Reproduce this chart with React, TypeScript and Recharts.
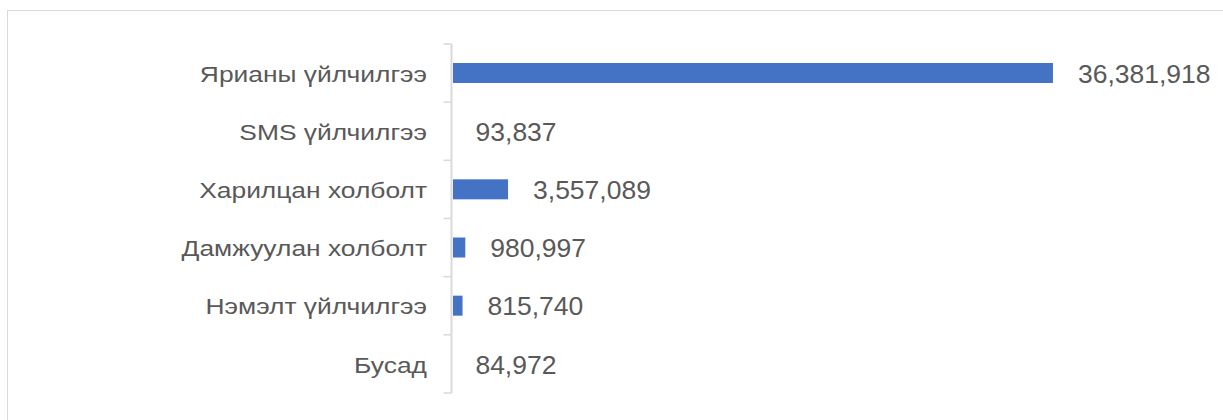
import React from 'react';
import { BarChart, Bar, XAxis, YAxis, LabelList } from 'recharts';

const categories = [
  'Ярианы үйлчилгээ',
  'SMS үйлчилгээ',
  'Харилцан холболт',
  'Дамжуулан холболт',
  'Нэмэлт үйлчилгээ',
  'Бусад',
];
const values = [36381918, 93837, 3557089, 980997, 815740, 84972];

const data = categories.map((name, i) => ({ name, value: values[i] }));

const W = 1223;
const H = 420;
const M = { top: 44, right: 110, bottom: 27, left: 0 };
const AXIS_W = 449;
const BAND = (H - M.top - M.bottom) / categories.length;
const FONT = "'Liberation Sans', Arial, sans-serif";
const TEXT = '#595959';
const AXIS = '#d9d9d9';
const AX_OFF = 2.5; // axis line drawn slightly right of the value origin
const BAR_CLIP = 4; // bars start just right of the axis line

const Tick = (props: any) => {
  const { x, y, payload, index } = props;
  const half = BAND / 2;
  const ax = x + AX_OFF;
  return (
    <g>
      <line x1={ax} x2={ax} y1={y - half} y2={y + half} stroke={AXIS} strokeWidth={2} />
      <line x1={ax - 8} x2={ax} y1={y - half} y2={y - half} stroke={AXIS} strokeWidth={1.5} />
      {index === categories.length - 1 && (
        <line x1={ax - 8} x2={ax} y1={y + half} y2={y + half} stroke={AXIS} strokeWidth={1.5} />
      )}
      <text
        transform={`translate(${ax - 24.5},${y + 1}) scale(1.2,1)`}
        x={0}
        y={0}
        textAnchor="end"
        dominantBaseline="central"
        fill={TEXT}
        fontSize={22}
        fontFamily={FONT}
      >
        {payload.value}
      </text>
    </g>
  );
};

const BarShape = (props: any) => {
  const { x, y, width, height, fill } = props;
  const w = width - BAR_CLIP;
  if (!(w > 0)) return <g />;
  return <rect x={x + BAR_CLIP} y={y} width={w} height={height} fill={fill} />;
};

const ValueLabel = (props: any) => {
  const { x, y, width, height, value } = props;
  const tx = Number(x) + Number(width) + 25;
  const ty = Number(y) + Number(height) / 2 + 1;
  return (
    <text
      transform={`translate(${tx},${ty}) scale(1.06,1)`}
      x={0}
      y={0}
      textAnchor="start"
      dominantBaseline="central"
      fill={TEXT}
      fontSize={25}
      fontFamily={FONT}
    >
      {Number(value).toLocaleString('en-US')}
    </text>
  );
};

export default function App() {
  return (
    <div style={{ position: 'fixed', left: 0, top: 0, width: W, height: H, background: '#fff', overflow: 'hidden' }}>
      <div
        style={{
          position: 'absolute',
          left: 7,
          top: 10,
          width: W + 40,
          height: H + 40,
          border: '1.5px solid #d9d9d9',
          boxSizing: 'border-box',
        }}
      />
      <div style={{ position: 'absolute', left: 0, top: 0 }}>
        <BarChart width={W} height={H} data={data} layout="vertical" margin={M} barCategoryGap={0}>
          <XAxis type="number" hide domain={[0, 40000000]} />
          <YAxis
            type="category"
            dataKey="name"
            width={AXIS_W}
            tickSize={0}
            tickMargin={0}
            tickLine={false}
            axisLine={false}
            tick={<Tick />}
            interval={0}
          />
          <Bar dataKey="value" fill="#4472C4" barSize={20} shape={<BarShape />} isAnimationActive={false}>
            <LabelList dataKey="value" content={<ValueLabel />} />
          </Bar>
        </BarChart>
      </div>
    </div>
  );
}
